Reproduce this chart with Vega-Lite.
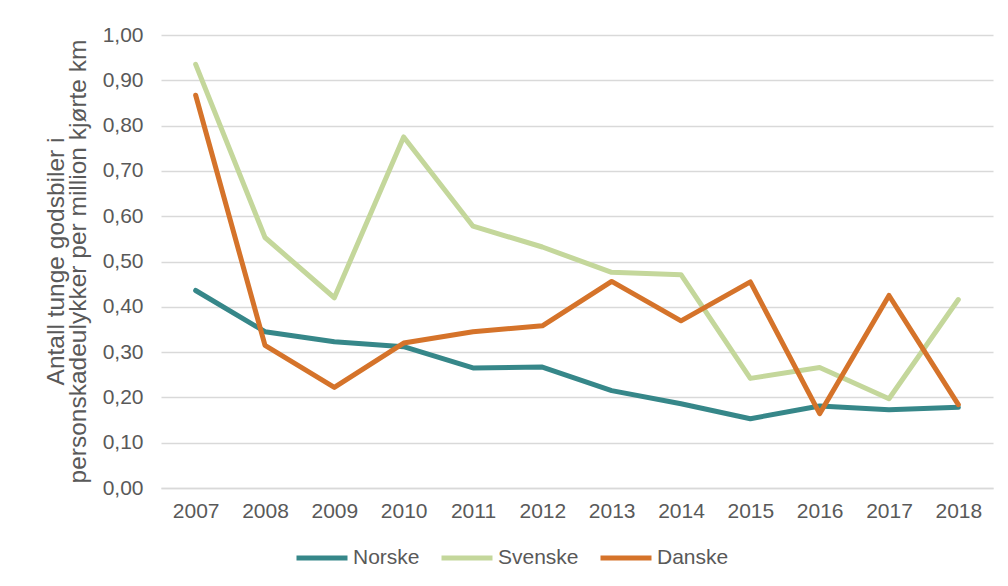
{
  "$schema": "https://vega.github.io/schema/vega-lite/v6.json",
  "width": 832,
  "height": 453,
  "autosize": {"type": "none"},
  "padding": {"left": 161, "top": 35, "right": 15, "bottom": 98},
  "background": "white",
  "config": {
    "view": {"stroke": null},
    "font": "Liberation Sans",
    "axis": {"labelColor": "#595959", "titleColor": "#595959", "labelFontSize": 21, "titleFontSize": 24.5, "titleFontWeight": "normal"}
  },
  "data": {
    "values": [
      {"year": "2007", "land": "Norske", "v": 0.436},
      {"year": "2008", "land": "Norske", "v": 0.345},
      {"year": "2009", "land": "Norske", "v": 0.323},
      {"year": "2010", "land": "Norske", "v": 0.312},
      {"year": "2011", "land": "Norske", "v": 0.265},
      {"year": "2012", "land": "Norske", "v": 0.267},
      {"year": "2013", "land": "Norske", "v": 0.215},
      {"year": "2014", "land": "Norske", "v": 0.186},
      {"year": "2015", "land": "Norske", "v": 0.153},
      {"year": "2016", "land": "Norske", "v": 0.181},
      {"year": "2017", "land": "Norske", "v": 0.173},
      {"year": "2018", "land": "Norske", "v": 0.178},
      {"year": "2007", "land": "Svenske", "v": 0.935},
      {"year": "2008", "land": "Svenske", "v": 0.553},
      {"year": "2009", "land": "Svenske", "v": 0.42},
      {"year": "2010", "land": "Svenske", "v": 0.775},
      {"year": "2011", "land": "Svenske", "v": 0.578},
      {"year": "2012", "land": "Svenske", "v": 0.532},
      {"year": "2013", "land": "Svenske", "v": 0.476},
      {"year": "2014", "land": "Svenske", "v": 0.471},
      {"year": "2015", "land": "Svenske", "v": 0.242},
      {"year": "2016", "land": "Svenske", "v": 0.266},
      {"year": "2017", "land": "Svenske", "v": 0.197},
      {"year": "2018", "land": "Svenske", "v": 0.416},
      {"year": "2007", "land": "Danske", "v": 0.867},
      {"year": "2008", "land": "Danske", "v": 0.315},
      {"year": "2009", "land": "Danske", "v": 0.222},
      {"year": "2010", "land": "Danske", "v": 0.32},
      {"year": "2011", "land": "Danske", "v": 0.345},
      {"year": "2012", "land": "Danske", "v": 0.358},
      {"year": "2013", "land": "Danske", "v": 0.456},
      {"year": "2014", "land": "Danske", "v": 0.369},
      {"year": "2015", "land": "Danske", "v": 0.455},
      {"year": "2016", "land": "Danske", "v": 0.164},
      {"year": "2017", "land": "Danske", "v": 0.425},
      {"year": "2018", "land": "Danske", "v": 0.184}
    ]
  },
  "mark": {"type": "line", "strokeWidth": 5, "strokeJoin": "round", "strokeCap": "round"},
  "encoding": {
    "x": {
      "field": "year", "type": "ordinal",
      "scale": {"type": "point", "padding": 0.5},
      "axis": {"title": null, "labelAngle": 0, "ticks": false, "domain": true, "domainColor": "#d9d9d9", "domainWidth": 1.5, "labelPadding": 12, "grid": false}
    },
    "y": {
      "field": "v", "type": "quantitative",
      "scale": {"domain": [0, 1], "nice": false},
      "axis": {
        "values": [0, 0.1, 0.2, 0.3, 0.4, 0.5, 0.6, 0.7, 0.8, 0.9, 1.0],
        "labelExpr": "replace(format(datum.value, '.2f'), '.', ',')",
        "ticks": false, "domain": false, "grid": true, "gridColor": "#d9d9d9", "gridWidth": 1.5,
        "labelPadding": 18,
        "title": ["Antall tunge godsbiler i", "personskadeulykker per million kjørte km"],
        "titleAngle": -90, "titleX": -98, "titleY": 226, "titleAlign": "center", "titleBaseline": "alphabetic", "titleLineHeight": 22
      }
    },
    "color": {
      "field": "land", "type": "nominal",
      "scale": {"domain": ["Norske", "Svenske", "Danske"], "range": ["#368789", "#c4d79b", "#d5732a"]},
      "legend": {
        "title": null, "orient": "none", "direction": "horizontal", "legendX": 133, "legendY": 495,
        "symbolType": "stroke", "symbolSize": 2601, "symbolStrokeWidth": 5,
        "labelFontSize": 21, "labelColor": "#595959", "labelOffset": 3, "columnPadding": 11
      }
    }
  }
}
